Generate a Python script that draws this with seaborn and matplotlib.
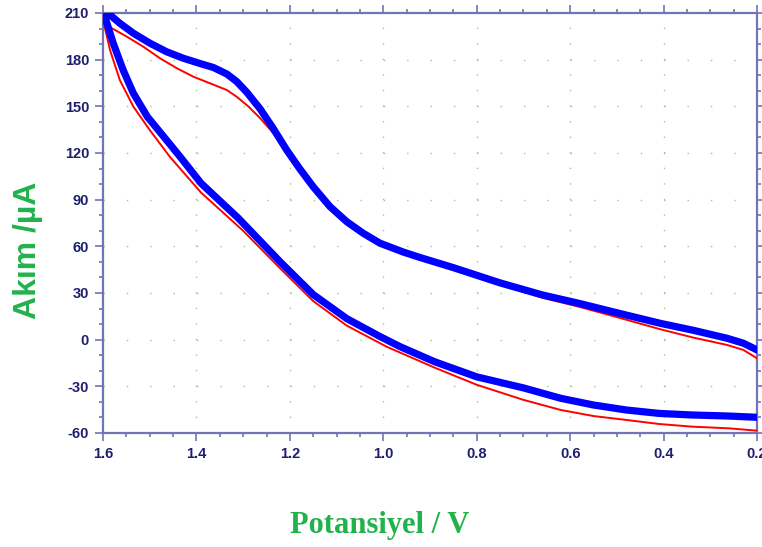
import pandas as pd
import matplotlib.pyplot as plt
import seaborn as sns

# CV verileri: mavi (kalın) ve kırmızı (ince) eğriler, alt ve üst kollar
blue_lower_v = [0.20, 0.26, 0.34, 0.41, 0.48, 0.55, 0.62, 0.70, 0.80, 0.89, 0.964, 1.007, 1.078, 1.15, 1.221, 1.31,
                1.39, 1.435, 1.47, 1.505, 1.535, 1.557, 1.578, 1.596]
blue_lower_i = [-49.9, -49.1, -48.4, -47.4, -45.2, -42.0, -37.7, -31.0, -23.9, -14.2, -4.5, 2.0, 13.5, 29.0, 50.1, 78.0,
                100.5, 117.6, 130.5, 143.3, 158.4, 173.4, 190.5, 207.6]
blue_upper_v = [1.589, 1.564, 1.535, 1.499, 1.464, 1.428, 1.392, 1.364, 1.335, 1.314, 1.292, 1.264, 1.236, 1.207,
                1.178, 1.150, 1.114, 1.078, 1.043, 1.007, 0.957, 0.921, 0.85, 0.75, 0.66, 0.579, 0.50, 0.407,
                0.336, 0.264, 0.229, 0.20]
blue_upper_i = [209.8, 203.4, 197.0, 190.5, 185.1, 180.9, 177.5, 175.0, 170.8, 166.0, 159.0, 148.5, 136.0, 122.0,
                109.5, 98.3, 85.5, 75.8, 68.4, 62.0, 56.3, 52.8, 46.3, 36.5, 28.8, 23.2, 17.3, 10.5,
                6.0, 0.9, -2.3, -6.6]

red_lower_v = [0.20, 0.26, 0.34, 0.41, 0.48, 0.55, 0.62, 0.70, 0.80, 0.89, 0.993, 1.078, 1.15, 1.221, 1.30, 1.39,
               1.457, 1.50, 1.535, 1.564, 1.585, 1.599]
red_lower_i = [-58.5, -57.0, -55.9, -54.2, -51.6, -49.1, -45.2, -38.7, -29.0, -18.0, -4.5, 9.0, 24.8, 45.9, 70.0, 94.5,
               117.6, 134.8, 149.8, 166.9, 186.2, 204.4]
red_upper_v = [1.599, 1.581, 1.549, 1.514, 1.478, 1.442, 1.407, 1.371, 1.335, 1.314, 1.289, 1.264, 1.236, 1.207,
               1.178, 1.150, 1.114, 1.078, 1.043, 1.007, 0.957, 0.921, 0.85, 0.75, 0.66, 0.579, 0.50, 0.407,
               0.336, 0.264, 0.229, 0.20]
red_upper_i = [204.4, 200.2, 194.8, 188.4, 180.9, 174.5, 169.1, 164.8, 160.5, 156.2, 150.0, 142.5, 133.0, 120.5,
               108.5, 97.5, 85.0, 75.3, 68.0, 61.3, 55.6, 52.0, 45.6, 35.5, 27.0, 21.0, 14.5, 6.7,
               1.3, -3.4, -6.6, -12.0]

x_ticks = [1.6, 1.4, 1.2, 1.0, 0.8, 0.6, 0.4, 0.2]
y_ticks = [-60, -30, 0, 30, 60, 90, 120, 150, 180, 210]

spine_col = '#7373b8'
label_col = '#1f1f6e'
green = '#22b24c'

sns.set_style('ticks')
plt.rcParams['font.family'] = ['Liberation Sans', 'DejaVu Sans']
plt.rcParams['axes.unicode_minus'] = False

red_df = pd.DataFrame({'V': red_lower_v + red_upper_v, 'I': red_lower_i + red_upper_i})
blue_df = pd.DataFrame({'V': blue_lower_v + blue_upper_v, 'I': blue_lower_i + blue_upper_i})

fig = plt.figure(figsize=(7.62, 5.47), dpi=100)
ax = fig.add_axes([103 / 762, 1 - 433 / 547, 654 / 762, 420 / 547])

sns.lineplot(data=red_df, x='V', y='I', sort=False, estimator=None, color='#ff0000',
             linewidth=1.4, ax=ax, zorder=3, solid_joinstyle='round')
sns.lineplot(data=blue_df, x='V', y='I', sort=False, estimator=None, color='#0000ff',
             linewidth=5.2, ax=ax, zorder=4, solid_joinstyle='round', solid_capstyle='round')

ax.set_xlim(1.6, 0.2)
ax.set_ylim(-60, 210)
ax.set_xticks(x_ticks)
ax.set_xticklabels([f'{v:.1f}' for v in x_ticks])
ax.set_yticks(y_ticks)
ax.set_xticks([1.6 - 0.05 * k for k in range(29)], minor=True)
ax.set_yticks(list(range(-60, 211, 10)), minor=True)

for s in ax.spines.values():
    s.set_visible(True)
    s.set_color(spine_col)
    s.set_linewidth(1.6)

ax.tick_params(which='both', direction='out', color=spine_col, width=1.2,
               top=True, right=True, labeltop=False, labelright=False)
ax.tick_params(which='major', length=5.5, pad=4.5)
ax.tick_params(which='minor', length=3)
for lab in ax.get_xticklabels() + ax.get_yticklabels():
    lab.set_fontweight('bold')
    lab.set_fontsize(10.5)
    lab.set_color(label_col)

# noktalı ızgara
ax.grid(which='major', axis='y', color='#a9c38f', linewidth=1.0, linestyle=(0, (1, 15.82)))
ax.grid(which='major', axis='x', color='#a9c38f', linewidth=1.0, linestyle=(0, (1, 10.2)))
ax.set_axisbelow(True)

ax.set_xlabel('')
ax.set_ylabel('')
fig.text(380 / 762, 1 - 525 / 547, 'Potansiyel / V', ha='center', va='center',
         fontsize=22, fontweight='bold', color=green, family=['Liberation Serif', 'DejaVu Serif'])
fig.text(28 / 762, 1 - 250 / 547, 'Akım /µA', ha='center', va='center', rotation=90,
         fontsize=23, fontweight='bold', color=green)

fig.savefig('out.png', dpi=100)
